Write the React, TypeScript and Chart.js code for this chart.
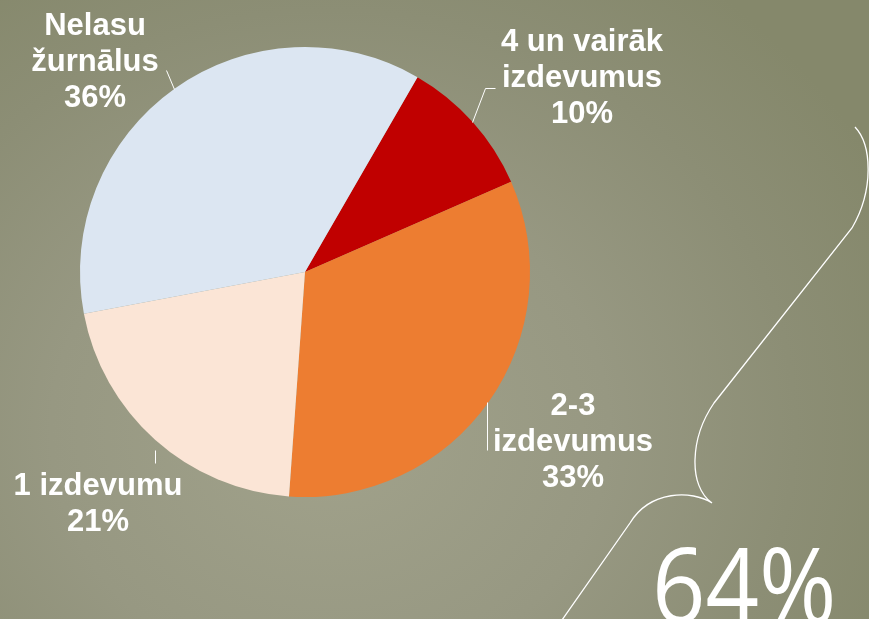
import React, { useEffect, useRef } from "react";
import { Chart, registerables } from "chart.js";

Chart.register(...registerables);

const categories = ["4 un vairāk izdevumus", "2-3 izdevumus", "1 izdevumu", "Nelasu žurnālus"];
const labelLines = [["4 un vairāk", "izdevumus"], ["2-3", "izdevumus"], ["1 izdevumu"], ["Nelasu", "žurnālus"]];
const shares = [10.1, 32.7, 20.9, 36.3];
const sliceColors = ["#C00000", "#ED7D31", "#FBE5D6", "#DCE6F2"];
const bracketTotal = "64%";

// label anchor (first baseline) relative to pie centre, and leader lines
const labelAnchors = [
  { dx: 277, dy: -221 },
  { dx: 268, dy: 143 },
  { dx: -207, dy: 223 },
  { dx: -210, dy: -237 },
];
const leaders = [
  [[190, -184], [180, -184], [167, -150]],
  [[182, 130], [182, 178]],
  [[-150, 178], [-150, 191]],
  [[-139, -202], [-131, -183]],
];

const overlay = {
  id: "overlay",
  afterDraw(chart: any) {
    const ctx = chart.ctx;
    const arc = chart.getDatasetMeta(0).data[0];
    const cx = arc.x;
    const cy = arc.y;
    ctx.save();
    ctx.strokeStyle = "#ffffff";
    ctx.lineWidth = 1;
    leaders.forEach((pts) => {
      ctx.beginPath();
      pts.forEach((p, i) => {
        if (i === 0) ctx.moveTo(cx + p[0] + 0.5, cy + p[1] + 0.5);
        else ctx.lineTo(cx + p[0] + 0.5, cy + p[1] + 0.5);
      });
      ctx.stroke();
    });
    ctx.fillStyle = "#ffffff";
    ctx.font = "bold 31px 'Liberation Sans', Arial, sans-serif";
    ctx.textAlign = "center";
    ctx.textBaseline = "alphabetic";
    const lh = 36;
    labelLines.forEach((lines, i) => {
      const a = labelAnchors[i];
      const all = [...lines, Math.round(shares[i]) + "%"];
      all.forEach((t, j) => {
        ctx.fillText(t, cx + a.dx, cy + a.dy + j * lh);
      });
    });
    // brace
    ctx.lineWidth = 1.3;
    ctx.beginPath();
    ctx.moveTo(855, 127);
    ctx.bezierCurveTo(872, 145, 874, 190, 852, 228);
    ctx.lineTo(714, 403);
    ctx.bezierCurveTo(690, 438, 688, 486, 712, 503);
    ctx.bezierCurveTo(692, 490, 650, 490, 630, 523);
    ctx.lineTo(548, 640);
    ctx.stroke();
    // total
    ctx.save();
    ctx.translate(652, 623);
    ctx.scale(0.9, 1);
    ctx.font = "104px 'Open Sans', sans-serif";
    ctx.textAlign = "left";
    ctx.fillText(bracketTotal, 0, 0);
    ctx.restore();
    ctx.restore();
  },
};

export default function App() {
  const ref = useRef<HTMLCanvasElement>(null);
  useEffect(() => {
    if (!ref.current) return;
    const chart = new Chart(ref.current, {
      type: "pie",
      data: {
        labels: categories,
        datasets: [
          {
            data: shares,
            backgroundColor: sliceColors,
            borderWidth: 0,
          },
        ],
      },
      options: {
        responsive: false,
        animation: false,
        rotation: 30,
        layout: { padding: { left: 80, top: 47, right: 339, bottom: 122 } },
        plugins: { legend: { display: false }, tooltip: { enabled: false } },
      },
      plugins: [overlay],
    });
    return () => chart.destroy();
  }, []);
  return (
    <div
      style={{
        position: "fixed",
        left: 0,
        top: 0,
        width: 869,
        height: 619,
        background:
          "radial-gradient(ellipse 620px 560px at 330px 430px, #a1a28b 0%, #979882 45%, #8c8e75 75%, #85886b 100%)",
      }}
    >
      <canvas ref={ref} width={869} height={619} style={{ display: "block" }} />
    </div>
  );
}
